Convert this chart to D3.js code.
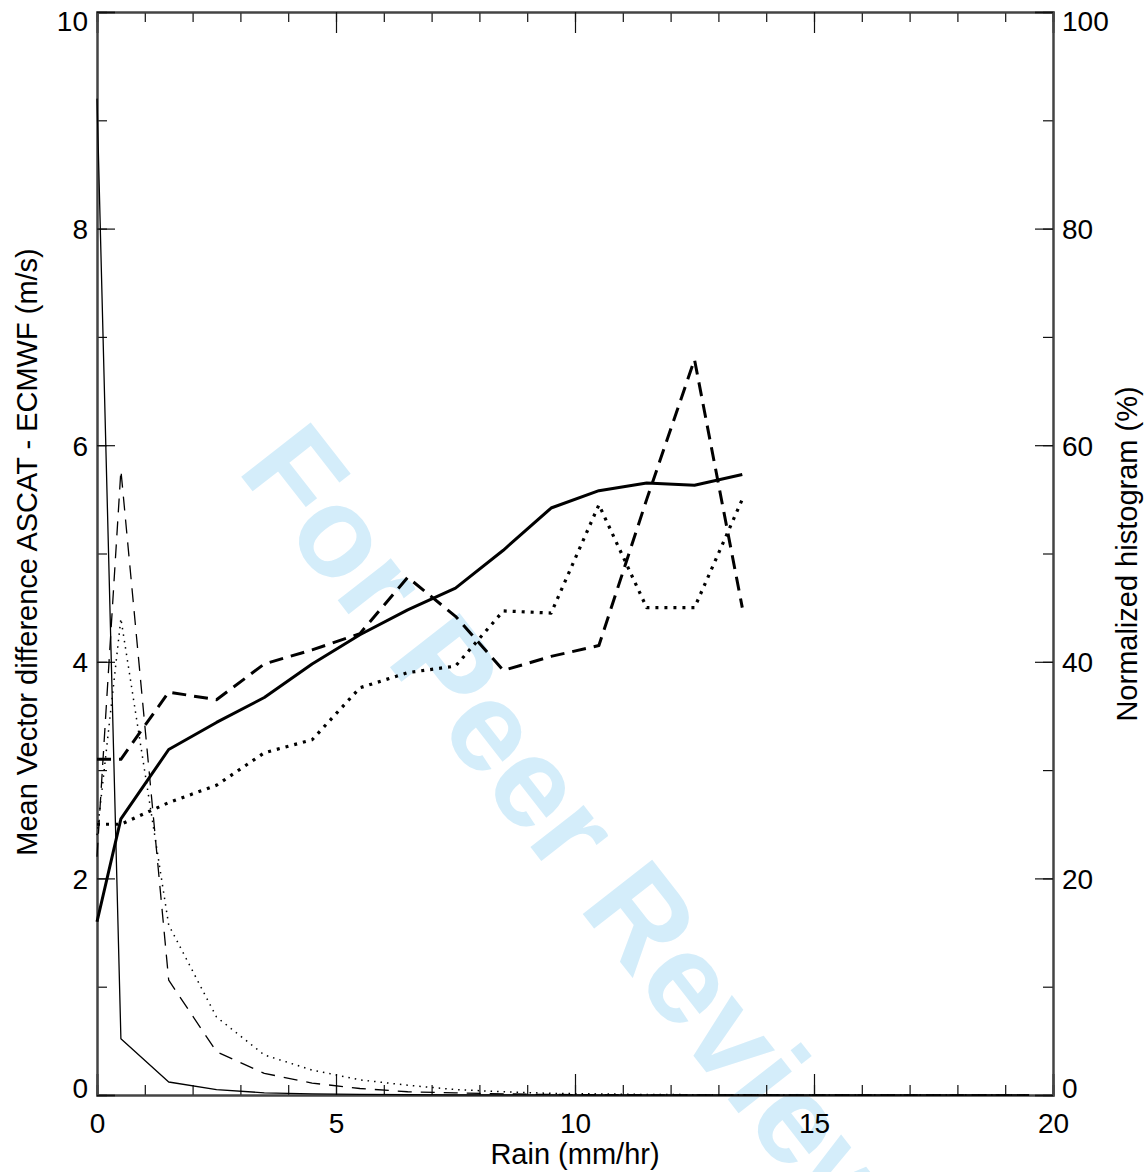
<!DOCTYPE html>
<html>
<head>
<meta charset="utf-8">
<script src="https://cdn.jsdelivr.net/npm/d3@7"></script>
<style>
  body { margin: 0; background: #fff; }
  text { font-family: "Liberation Sans", Arial, Helvetica, sans-serif; }
</style>
</head>
<body>
<svg id="chart" width="1146" height="1172"></svg>
<script>
// rain bins (mm/hr, bin centres)
let rain = [0, 0.5, 1.5, 2.5, 3.5, 4.5, 5.5, 6.5, 7.5, 8.5, 9.5, 10.5, 11.5, 12.5, 13.5];
let histRain = [0, 0.5, 1.5, 2.5, 3.5, 4.5, 5.5, 6.5, 7.5, 8.5, 9.5, 10.5, 11.5, 12.5, 13.5, 14.5, 15.5, 16.5, 17.5, 18.5, 19.5];

// mean vector difference (m/s), left axis
let mvdSolid = [1.6, 2.55, 3.19, 3.44, 3.67, 3.98, 4.25, 4.48, 4.68, 5.03, 5.42, 5.58, 5.65, 5.63, 5.73];
let mvdDashed = [3.1, 3.1, 3.72, 3.65, 3.98, 4.11, 4.26, 4.78, 4.42, 3.92, 4.05, 4.15, 5.5, 6.79, 4.5];
let mvdDotted = [2.5, 2.5, 2.7, 2.86, 3.16, 3.28, 3.76, 3.9, 3.96, 4.47, 4.45, 5.45, 4.5, 4.5, 5.5];

// normalized histogram (%), right axis
let histSolid = [92, 5.2, 1.2, 0.5, 0.2, 0.1, 0.05, 0.03, 0.02, 0.01, 0.01, 0, 0, 0, 0, 0, 0, 0, 0, 0, 0];
let histDashed = [22, 57.7, 10.6, 4.0, 2.0, 1.1, 0.6, 0.3, 0.2, 0.1, 0.05, 0.03, 0.02, 0.01, 0.01, 0, 0, 0, 0, 0, 0];
let histDotted = [24, 44, 15.7, 7.2, 3.7, 2.3, 1.4, 0.9, 0.5, 0.3, 0.15, 0.1, 0.05, 0.03, 0.02, 0.01, 0, 0, 0, 0, 0];

let xTicks = [0, 5, 10, 15, 20];
let yTicks = [0, 2, 4, 6, 8, 10];
let y2Ticks = [0, 20, 40, 60, 80, 100];

const W = 1146, H = 1172;
const m = { left: 97, right: 93, top: 12, bottom: 77 };

const svg = d3.select("#chart");

const x = d3.scaleLinear().domain([0, 20]).range([m.left, W - m.right]);
const y = d3.scaleLinear().domain([0, 10]).range([H - m.bottom, m.top]);
const y2 = d3.scaleLinear().domain([0, 100]).range([H - m.bottom, m.top]);

// watermark
svg.append("text")
  .attr("transform", "translate(" + 236 + "," + 470 + ") rotate(52)")
  .attr("font-size", 128)
  .attr("font-weight", "bold")
  .attr("fill", "#d4edfa")
  .text("For Peer Review");

// axes: ticks pointing inwards, minor every 1 unit
const axisCol = "#444";
const minorX = d3.range(0, 21, 1);
const minorY = d3.range(0, 11, 1);
const minorY2 = d3.range(0, 101, 10);

let gb = svg.append("g").attr("transform", "translate(0," + (H - m.bottom) + ")")
  .call(d3.axisBottom(x).tickValues(minorX).tickSize(-10).tickFormat(""));
let gbM = svg.append("g").attr("transform", "translate(0," + (H - m.bottom) + ")")
  .call(d3.axisBottom(x).tickValues(xTicks).tickSize(-21).tickFormat(d3.format("d")));
let gt = svg.append("g").attr("transform", "translate(0," + m.top + ")")
  .call(d3.axisTop(x).tickValues(minorX).tickSize(-10).tickFormat(""));
let gtM = svg.append("g").attr("transform", "translate(0," + m.top + ")")
  .call(d3.axisTop(x).tickValues(xTicks).tickSize(-21).tickFormat(""));

let gl = svg.append("g").attr("transform", "translate(" + m.left + ",0)")
  .call(d3.axisLeft(y).tickValues(minorY).tickSize(-10).tickFormat(""));
let glM = svg.append("g").attr("transform", "translate(" + m.left + ",0)")
  .call(d3.axisLeft(y).tickValues(yTicks).tickSize(-18).tickFormat(d3.format("d")));
let gr = svg.append("g").attr("transform", "translate(" + (W - m.right) + ",0)")
  .call(d3.axisRight(y2).tickValues(minorY2).tickSize(-10).tickFormat(""));
let grM = svg.append("g").attr("transform", "translate(" + (W - m.right) + ",0)")
  .call(d3.axisRight(y2).tickValues(y2Ticks).tickSize(-18).tickFormat(d3.format("d")));

svg.selectAll(".domain").attr("stroke", axisCol).attr("stroke-width", 2);
svg.selectAll(".tick line").attr("stroke", "#111").attr("stroke-width", 1.2);
svg.selectAll(".tick text")
  .attr("font-size", 28)
  .attr("font-family", "Liberation Sans, Arial, sans-serif")
  .attr("fill", "#000");

// end labels are nudged inside the page like the original plot
function nudge(d, lo, hi) {
  if (d === lo) return -8;
  if (d === hi) return 8;
  return 0;
}
glM.selectAll(".tick text").attr("x", -9).attr("dy", d => (10 + nudge(d, 0, 10)) + "px");
grM.selectAll(".tick text").attr("x", 9).attr("dy", d => (10 + nudge(d, 0, 100)) + "px");
gbM.selectAll(".tick text").attr("y", 38).attr("dy", "0px");

// axis titles
svg.append("text")
  .attr("x", (m.left + W - m.right) / 2).attr("y", 1164)
  .attr("text-anchor", "middle").attr("font-size", 29)
  .text("Rain (mm/hr)");
svg.append("text")
  .attr("transform", "translate(37," + 552 + ") rotate(-90)")
  .attr("text-anchor", "middle").attr("font-size", 29)
  .text("Mean Vector difference ASCAT - ECMWF (m/s)");
svg.append("text")
  .attr("transform", "translate(1137," + 554 + ") rotate(-90)")
  .attr("text-anchor", "middle").attr("font-size", 29)
  .text("Normalized histogram (%)");

// lines
const lineL = d3.line().x((d, i) => x(rain[i])).y(d => y(d));
const lineR = d3.line().x((d, i) => x(histRain[i])).y(d => y2(d));

const plot = svg.append("g");

function draw(data, gen, width, dash) {
  plot.append("path")
    .datum(data)
    .attr("d", gen)
    .attr("fill", "none")
    .attr("stroke", "#000")
    .attr("stroke-width", width)
    .attr("stroke-linejoin", "round")
    .attr("stroke-dasharray", dash);
}

draw(histSolid, lineR, 1.3, null);
draw(histDashed, lineR, 1.3, "14,9");
draw(histDotted, lineR, 1.5, "1.5,5");

draw(mvdSolid, lineL, 3, null);
draw(mvdDashed, lineL, 3, "14,8");
draw(mvdDotted, lineL, 3.2, "3,6");
</script>
</body>
</html>
